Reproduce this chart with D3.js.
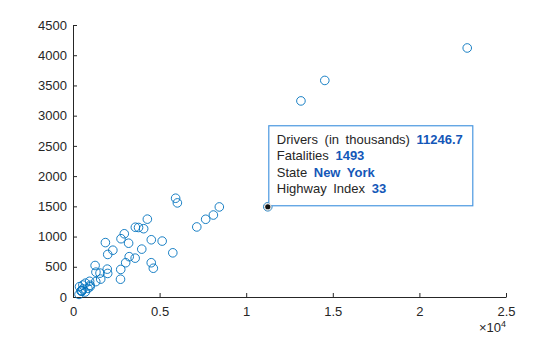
<!DOCTYPE html>
<html><head><meta charset="utf-8">
<script src="https://cdn.jsdelivr.net/npm/d3@7"></script>
<style>
html,body{margin:0;padding:0;background:#fff;}
svg{display:block;font-family:"Liberation Sans",Arial,Helvetica,sans-serif;}
</style></head>
<body>
<svg id="c" width="560" height="337"></svg>
<script>
const states = ["Alabama","Alaska","Arizona","Arkansas","California","Colorado","Connecticut","Delaware","District of Columbia","Florida","Georgia","Hawaii","Idaho","Illinois","Indiana","Iowa","Kansas","Kentucky","Louisiana","Maine","Maryland","Massachusetts","Michigan","Minnesota","Mississippi","Missouri","Montana","Nebraska","Nevada","New Hampshire","New Jersey","New Mexico","New York","North Carolina","North Dakota","Ohio","Oklahoma","Oregon","Pennsylvania","Rhode Island","South Carolina","South Dakota","Tennessee","Texas","Utah","Vermont","Virginia","Washington","West Virginia","Wisconsin","Wyoming"];
const drivers = [3600,482,3784,2005,22761,3245,2742,571,349,13160,5926,862,960,8105,4520,2003,1978,2772,3210,986,3589,4638,7147,3041,1870,4079,720,1315,1559,986,5762,1276,11246.7,6026,464,7660,2301,2756,8448,708,2961,569,4293,14538,1600,520,5148,4517,1324,3970,376];
const fatalities = [1154,101,1150,704,4120,667,294,134,43,3244,1634,142,260,1356,947,390,461,964,890,194,643,476,1159,567,900,1130,229,254,395,171,731,521,1493,1557,100,1286,774,456,1490,83,1046,197,1288,3583,296,98,925,567,411,792,171];
const xTicks = [0,5000,10000,15000,20000,25000];
const xTickLabels = ["0","0.5","1","1.5","2","2.5"];
const yTicks = [0,500,1000,1500,2000,2500,3000,3500,4000,4500];
const tipIndex = 32;
const tipLabels = ["Drivers (in thousands)","Fatalities","State","Highway Index"];

const svg = d3.select("#c");
const L=73, R=506, T=25, B=297;
const x = d3.scaleLinear().domain([0,25000]).range([L,R]);
const y = d3.scaleLinear().domain([0,4500]).range([B,T]);
const axCol = "#262626";

const gx = svg.append("g").attr("transform",`translate(0,${B})`)
  .call(d3.axisBottom(x).tickValues(xTicks).tickFormat((d,i)=>xTickLabels[i]).tickSizeInner(-4).tickSizeOuter(0).tickPadding(10));
const gy = svg.append("g").attr("transform",`translate(${L},0)`)
  .call(d3.axisLeft(y).tickValues(yTicks).tickFormat(d3.format("d")).tickSizeInner(-4).tickSizeOuter(0).tickPadding(6));
[gx,gy].forEach(g=>{
  g.select(".domain").attr("stroke",axCol).attr("stroke-width",1);
  g.selectAll(".tick line").attr("stroke",axCol);
  g.selectAll(".tick text").attr("fill",axCol).attr("font-size",13).attr("font-family",'"Liberation Sans",Arial,sans-serif');
});

// exponent label
const ex = svg.append("text").attr("x",R).attr("y",332).attr("text-anchor","end").attr("fill",axCol).attr("font-size",13);
ex.append("tspan").text("\u00d710");
ex.append("tspan").attr("dy",-5).attr("font-size",9).text("4");

const data = drivers.map((d,i)=>({d, f:fatalities[i], s:states[i], i:i+1}));
svg.append("g").selectAll("circle").data(data).join("circle")
  .attr("cx",p=>x(p.d)).attr("cy",p=>y(p.f)).attr("r",4.3)
  .attr("fill","none").attr("stroke","#0072BD").attr("stroke-width",0.9);

// data tip
const tp = data[tipIndex];
const px = x(tp.d), py = y(tp.f);
const tipVals = [String(tp.d), String(tp.f), tp.s, String(tp.i)];
const tg = svg.append("g");
const box = tg.append("rect").attr("fill","#fff").attr("stroke","#4a98e0").attr("stroke-width",1.2);
const lineH = 16.5;
const tx = px+9;
tipLabels.forEach((lab,k)=>{
  const t = tg.append("text").attr("x",tx).attr("y",py-63+k*lineH).attr("font-size",13)
    .attr("fill","#262626").style("word-spacing","3px");
  t.append("tspan").text(lab+" ");
  t.append("tspan").attr("font-weight","bold").attr("fill","#1457b8").text(tipVals[k]);
});
box.attr("x",px+1).attr("y",py-81).attr("width",204).attr("height",80);
tg.append("circle").attr("cx",px).attr("cy",py).attr("r",3.6).attr("fill","#fff").attr("stroke","#999").attr("stroke-width",0.8).attr("stroke-dasharray","1,1");
tg.append("circle").attr("cx",px).attr("cy",py).attr("r",2.6).attr("fill","#111");
</script>
</body></html>
